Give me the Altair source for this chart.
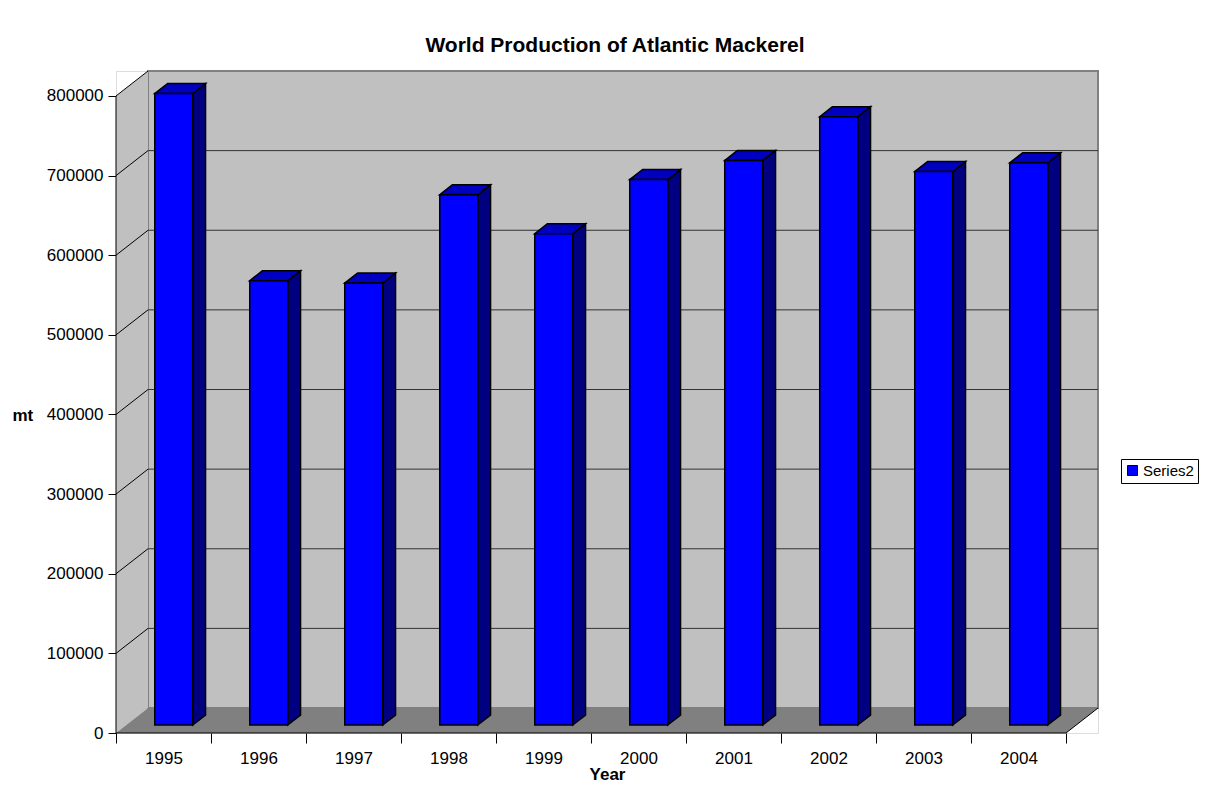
import altair as alt
import pandas as pd

# ---- data ----
years = [1995, 1996, 1997, 1998, 1999, 2000, 2001, 2002, 2003, 2004]
production = [793000, 558000, 555000, 666000, 617000, 685000, 709000, 764000, 695000, 706000]
y_ticks = [0, 100000, 200000, 300000, 400000, 500000, 600000, 700000, 800000]
series_name = "Series2"

# ---- 3D geometry (in data units) ----
N = len(years)
YMAX = 800000
DX = 0.337      # depth offset along x (category units)
DY = 31370      # depth offset along y (value units)
F1, F2 = 0.32, 0.72   # bar front/back depth fractions
HALF = 0.2            # half bar width

W, H = 982, 662

XS = alt.Scale(domain=[0, N + DX], nice=False, zero=False)
YS = alt.Scale(domain=[0, YMAX + DY], nice=False, zero=False)

label_arr = "[" + ",".join("'%d'" % y for y in years) + "]"
XA = alt.Axis(values=list(range(N + 1)), labelExpr=label_arr + "[datum.value] || ''",
              labelOffset=W / (N + DX) / 2, tickSize=10, tickColor="black", domain=False,
              grid=False, labelFontSize=17, labelPadding=7, labelFlush=False,
              labelOverlap=False, labelColor="black",
              title="Year", titleFontSize=17, titleFontWeight="bold", titleColor="black",
              titleBaseline="middle", titleY=41)
YA = alt.Axis(values=y_ticks, format="d", tickSize=8, tickColor="black", domain=False,
              grid=False, labelFontSize=17, labelPadding=5, labelColor="black",
              title="mt", titleAngle=0, titleFontSize=17, titleFontWeight="bold",
              titleColor="black", titleAlign="left", titleBaseline="middle",
              titleX=-104, titleY=344)


def X(f):
    return alt.X(f, type="quantitative", scale=XS, axis=XA)


def Y(f):
    return alt.Y(f, type="quantitative", scale=YS, axis=YA)


# back wall
wall_df = pd.DataFrame([{"x": DX, "x2": N + DX, "y": DY, "y2": YMAX + DY}])
back_wall = alt.Chart(wall_df).mark_rect(fill="#c0c0c0", stroke="#808080", strokeWidth=2).encode(
    x=X("x"), x2="x2", y=Y("y"), y2="y2")

grid_df = pd.DataFrame([{"x": DX, "x2": N + DX, "y": t + DY} for t in y_ticks[1:-1]])
back_grid = alt.Chart(grid_df).mark_rule(color="#333333", strokeWidth=1).encode(
    x=X("x"), x2="x2", y=Y("y"))

# left wall
lw_df = pd.DataFrame([{"x": 0, "y": 0, "y2": YMAX}, {"x": DX, "y": DY, "y2": YMAX + DY}])
left_wall = alt.Chart(lw_df).mark_area(fill="#c0c0c0", opacity=1).encode(
    x=X("x"), y=Y("y"), y2="y2")

diag_df = pd.DataFrame([{"x": 0, "x2": DX, "y": t, "y2": t + DY} for t in y_ticks[1:]])
left_diag = alt.Chart(diag_df).mark_rule(color="black", strokeWidth=1).encode(
    x=X("x"), x2="x2", y=Y("y"), y2="y2")

# floor
fl_df = pd.DataFrame([{"y": 0, "x": 0, "x2": N}, {"y": DY, "x": DX, "x2": N + DX}])
floor = alt.Chart(fl_df).mark_area(orient="horizontal", fill="#808080", opacity=1).encode(
    y=Y("y"), x=X("x"), x2="x2")

edge_df = pd.DataFrame([
    {"x": 0, "x2": N, "y": 0, "y2": 0},
    {"x": N, "x2": N + DX, "y": 0, "y2": DY},
    {"x": 0, "x2": 0, "y": 0, "y2": YMAX},
])
edges = alt.Chart(edge_df).mark_rule(color="black", strokeWidth=1).encode(
    x=X("x"), x2="x2", y=Y("y"), y2="y2")

# bars
front_rows, top_rows, side_rows = [], [], []
for i, (yr, v) in enumerate(zip(years, production)):
    xl = i + 0.5 - HALF
    xr = i + 0.5 + HALF
    front_rows.append({"year": yr, "series": series_name,
                       "x": xl + F1 * DX, "x2": xr + F1 * DX, "y": F1 * DY, "y2": v + F1 * DY})
    top_rows.append({"year": yr, "y": v + F1 * DY, "x": xl + F1 * DX, "x2": xr + F1 * DX})
    top_rows.append({"year": yr, "y": v + F2 * DY, "x": xl + F2 * DX, "x2": xr + F2 * DX})
    side_rows.append({"year": yr, "x": xr + F1 * DX, "y": F1 * DY, "y2": v + F1 * DY})
    side_rows.append({"year": yr, "x": xr + F2 * DX, "y": F2 * DY, "y2": v + F2 * DY})

bar_front = alt.Chart(pd.DataFrame(front_rows)).mark_rect(
    stroke="black", strokeWidth=1.5, opacity=1).encode(
    x=X("x"), x2="x2", y=Y("y"), y2="y2",
    color=alt.Color("series:N", scale=alt.Scale(domain=[series_name], range=["#0000ff"]),
                    legend=alt.Legend(orient="none", legendX=1005, legendY=388, title=None,
                                      strokeColor="black", fillColor="white", padding=4,
                                      symbolType="square", symbolSize=100,
                                      symbolStrokeColor="black", symbolStrokeWidth=1,
                                      symbolOpacity=1, labelFontSize=15, labelColor="black",
                                      labelOffset=3)))

bar_top = alt.Chart(pd.DataFrame(top_rows)).mark_area(
    orient="horizontal", fill="#0000c0", stroke="black", strokeWidth=1.5, opacity=1).encode(
    y=Y("y"), x=X("x"), x2="x2", detail="year:N")

bar_side = alt.Chart(pd.DataFrame(side_rows)).mark_area(
    fill="#000080", stroke="black", strokeWidth=1.5, opacity=1).encode(
    x=X("x"), y=Y("y"), y2="y2", detail="year:N")

chart = alt.layer(
    back_wall, left_wall, floor, back_grid, left_diag, edges, bar_side, bar_top, bar_front
).properties(
    width=W, height=H,
    title=alt.TitleParams("World Production of Atlantic Mackerel", fontSize=21,
                          fontWeight="bold", anchor="middle", offset=14, dx=8, color="black"),
    autosize=alt.AutoSizeParams(type="none"),
    padding={"left": 108, "top": 63, "right": 108, "bottom": 52},
).configure_view(stroke=None).configure(font="Liberation Sans")

chart.save("out.html", embed_options={"renderer": "svg", "actions": False})
